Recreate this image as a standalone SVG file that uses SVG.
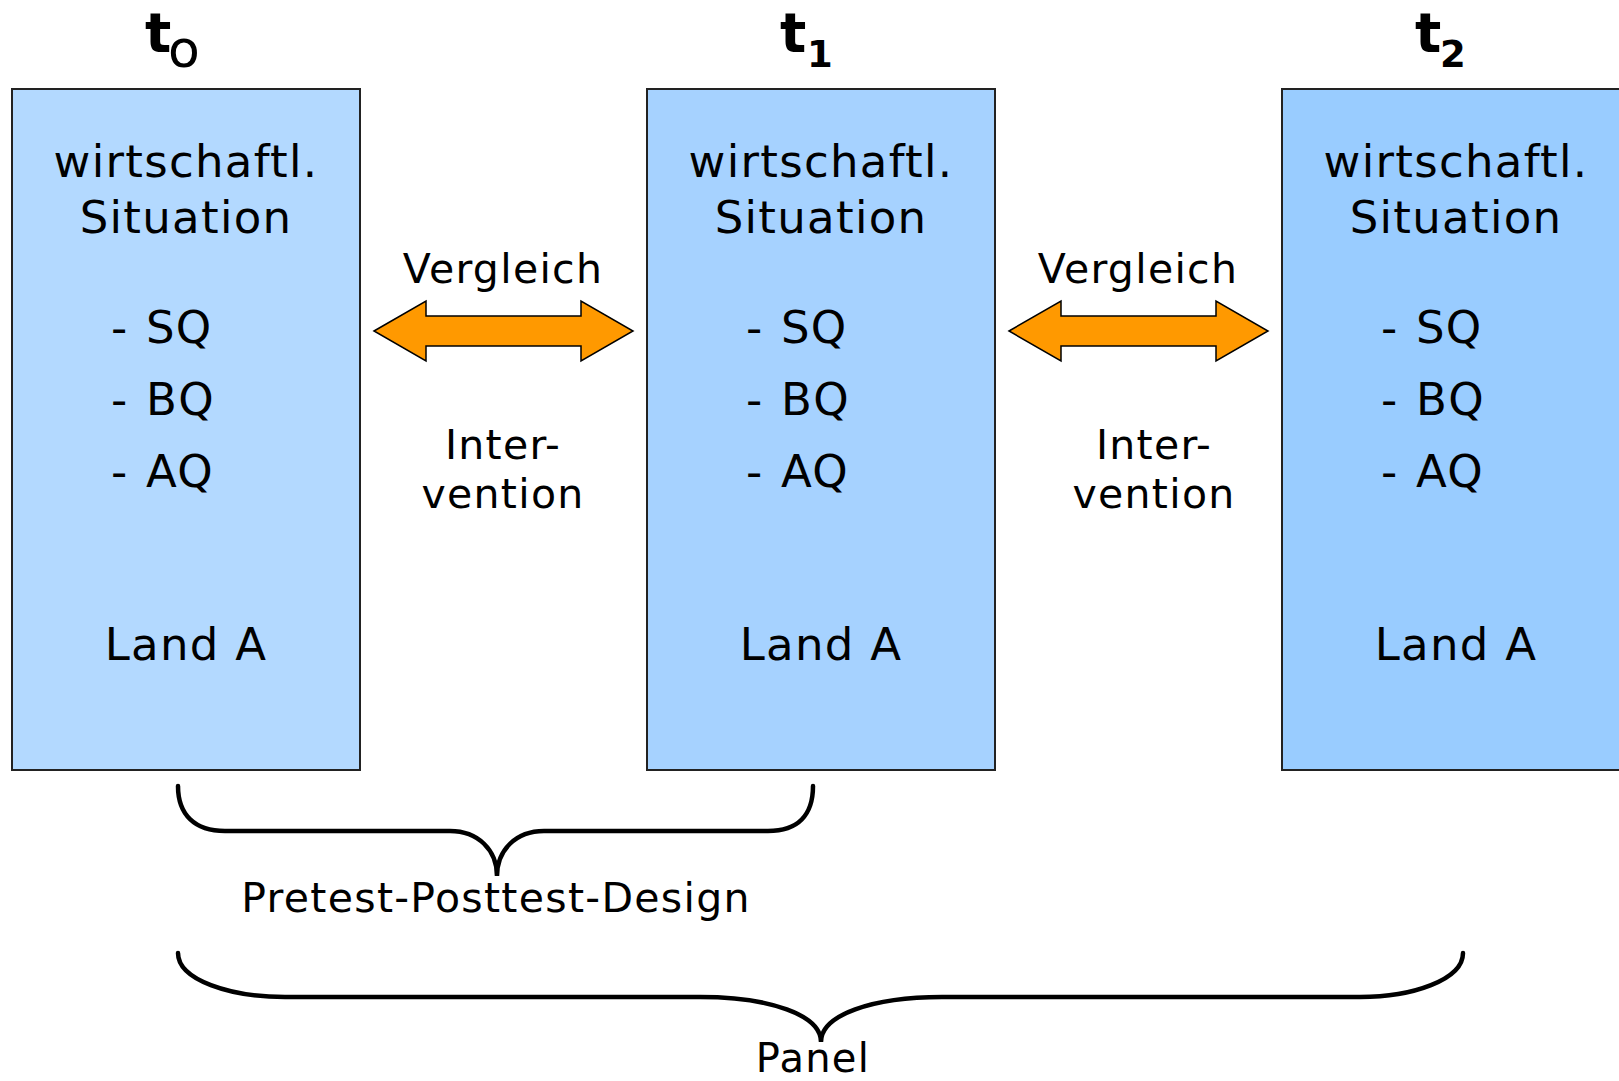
<svg xmlns="http://www.w3.org/2000/svg" width="1619" height="1081" viewBox="0 0 1619 1081">
<style>
  text { font-family: "DejaVu Sans", Verdana, sans-serif; fill: #000; }
  .box { stroke: #222; stroke-width: 2; }
  .big { font-size: 45px; letter-spacing: 1.3px; }
  .mid { font-size: 41px; letter-spacing: 1.3px; }
  .head { font-size: 55px; font-weight: bold; }
  .sub { font-size: 37px; font-weight: bold; }
  .arrow { fill: #FF9900; stroke: #000; stroke-width: 1.5; stroke-linejoin: miter; }
  .brace { fill: none; stroke: #000; stroke-width: 4.5; stroke-linecap: round; }
</style>
<rect width="1619" height="1081" fill="#fff"/>

<g id="node-t0">
  <text class="head" x="145" y="52">t<tspan style="font-weight:normal;font-size:52px" x="168" y="67">o</tspan></text>
  <rect class="box" x="12" y="89" width="348" height="681" fill="#B3D9FF"/>
  <text class="big" x="186" y="177" text-anchor="middle">wirtschaftl.</text>
  <text class="big" x="186" y="233" text-anchor="middle">Situation</text>
  <text class="big" x="111" y="343">- <tspan x="146">SQ</tspan></text>
  <text class="big" x="111" y="415">- <tspan x="146">BQ</tspan></text>
  <text class="big" x="111" y="487">- <tspan x="146">AQ</tspan></text>
  <text class="big" x="186" y="660" text-anchor="middle">Land A</text>
</g>

<g id="node-t1">
  <text class="head" x="780" y="52">t<tspan class="sub" x="807" y="67">1</tspan></text>
  <rect class="box" x="647" y="89" width="348" height="681" fill="#A6D2FF"/>
  <text class="big" x="821" y="177" text-anchor="middle">wirtschaftl.</text>
  <text class="big" x="821" y="233" text-anchor="middle">Situation</text>
  <text class="big" x="746" y="343">- <tspan x="781">SQ</tspan></text>
  <text class="big" x="746" y="415">- <tspan x="781">BQ</tspan></text>
  <text class="big" x="746" y="487">- <tspan x="781">AQ</tspan></text>
  <text class="big" x="821" y="660" text-anchor="middle">Land A</text>
</g>

<g id="node-t2">
  <text class="head" x="1415" y="52">t<tspan class="sub" x="1440" y="67">2</tspan></text>
  <rect class="box" x="1282" y="89" width="400" height="681" fill="#99CCFF"/>
  <text class="big" x="1456" y="177" text-anchor="middle">wirtschaftl.</text>
  <text class="big" x="1456" y="233" text-anchor="middle">Situation</text>
  <text class="big" x="1381" y="343">- <tspan x="1416">SQ</tspan></text>
  <text class="big" x="1381" y="415">- <tspan x="1416">BQ</tspan></text>
  <text class="big" x="1381" y="487">- <tspan x="1416">AQ</tspan></text>
  <text class="big" x="1456" y="660" text-anchor="middle">Land A</text>
</g>

<g id="connectors">
  <polygon class="arrow" points="374,331 426,301 426,316 581,316 581,301 633,331 581,361 581,346 426,346 426,361"/>
  <polygon class="arrow" points="1009,331 1061,301 1061,316 1216,316 1216,301 1268,331 1216,361 1216,346 1061,346 1061,361"/>
  <text class="mid" x="503" y="283" text-anchor="middle">Vergleich</text>
  <text class="mid" x="1138" y="283" text-anchor="middle">Vergleich</text>
  <text class="mid" x="503" y="459" text-anchor="middle">Inter-</text>
  <text class="mid" x="503" y="508" text-anchor="middle">vention</text>
  <text class="mid" x="1154" y="459" text-anchor="middle">Inter-</text>
  <text class="mid" x="1154" y="508" text-anchor="middle">vention</text>

  <path class="brace" d="M178,786 C178,815 195,831 225,831 L450,831 C478,831 497,850 497,876 C497,850 516,831 544,831 L768,831 C798,831 813,815 813,786"/>
  <text class="mid" x="496" y="912" text-anchor="middle">Pretest-Posttest-Design</text>

  <path class="brace" d="M178,953 C178,980 230,997 285,997 L700,997 C770,997 821,1015 821,1042 C821,1015 872,997 942,997 L1360,997 C1412,997 1463,980 1463,953"/>
  <text class="mid" x="813" y="1072" text-anchor="middle" style="font-size:40px">Panel</text>
</g>
</svg>
